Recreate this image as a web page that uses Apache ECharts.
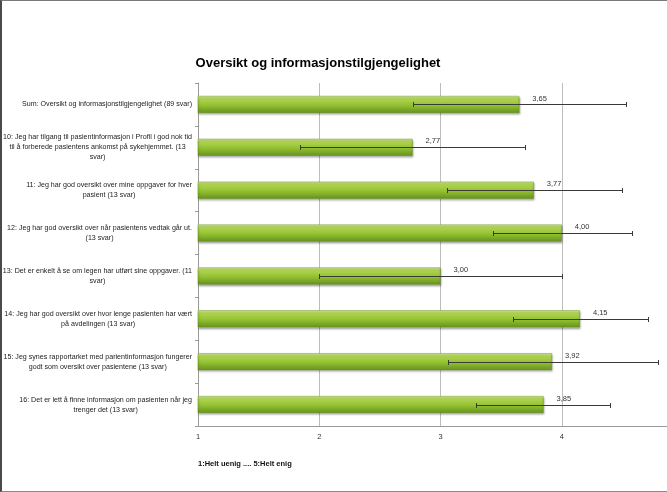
<!DOCTYPE html>
<html>
<head>
<meta charset="utf-8">
<script src="https://cdn.jsdelivr.net/npm/echarts@6/dist/echarts.min.js"></script>
<style>
html,body{margin:0;padding:0;background:#fff;}
#wrap{position:relative;width:667px;height:492px;overflow:hidden;}
#chart{position:absolute;left:0;top:0;width:667px;height:492px;}
#frame{position:absolute;left:0;top:0;width:667px;height:492px;box-sizing:border-box;border-left:2px solid #4a4a4a;border-top:1px solid #7a7a7a;border-bottom:1px solid #8a8a8a;pointer-events:none;}
</style>
</head>
<body>
<div id="wrap"><div id="chart"></div><div id="frame"></div></div>
<script>
const titleText = 'Oversikt og informasjonstilgjengelighet';
const axisNote = '1:Helt uenig .... 5:Helt enig';
const categories = [
  'Sum: Oversikt og informasjonstilgjengelighet (89 svar)',
  '10: Jeg har tilgang til pasientinformasjon i Profil i god nok tid\ntil å forberede pasientens ankomst på sykehjemmet. (13\nsvar)',
  '11: Jeg har god oversikt over mine oppgaver for hver\npasient (13 svar)',
  '12: Jeg har god oversikt over når pasientens vedtak går ut.\n(13 svar)',
  '13: Det er enkelt å se om legen har utført sine oppgaver. (11\nsvar)',
  '14: Jeg har god oversikt over hvor lenge pasienten har vært\npå avdelingen (13 svar)',
  '15: Jeg synes rapportarket med parientinformasjon fungerer\ngodt som oversikt over pasientene (13 svar)',
  '16: Det er lett å finne informasjon om pasienten når jeg\ntrenger det (13 svar)'
];
const means   = [3.65, 2.77, 3.77, 4.00, 3.00, 4.15, 3.92, 3.85];
const errLow  = [2.77, 1.84, 3.05, 3.43, 2.00, 3.60, 3.06, 3.29];
const errHigh = [4.53, 3.70, 4.50, 4.58, 4.00, 4.71, 4.79, 4.40];
const xTicks  = [1, 2, 3, 4, 5];

const errData = categories.map((c, i) => [i, errLow[i], errHigh[i]]);

const chart = echarts.init(document.getElementById('chart'), null, {renderer: 'canvas'});
const FONT = 'Liberation Sans, Arial, sans-serif';

chart.setOption({
  animation: false,
  backgroundColor: '#ffffff',
  title: [
    {
      text: titleText,
      left: 313, top: 52, textAlign: 'center',
      textStyle: {fontFamily: FONT, fontSize: 13, fontWeight: 'bold', color: '#000'}
    },
    {
      text: axisNote,
      left: 193, top: 455,
      textStyle: {fontFamily: FONT, fontSize: 7.5, fontWeight: 'bold', color: '#111'}
    }
  ],
  grid: {left: 198, top: 83, bottom: 66, right: -16, containLabel: false, outerBoundsMode: 'none'},
  xAxis: {
    type: 'value',
    min: xTicks[0], max: xTicks[xTicks.length - 1], interval: 1,
    axisLine: {show: true, lineStyle: {color: '#9a9a9a', width: 1}},
    axisTick: {show: false},
    splitLine: {show: true, lineStyle: {color: '#bdbdbd', width: 1}},
    axisLabel: {
      fontFamily: FONT, fontSize: 7.5, color: '#333', margin: 7,
      showMaxLabel: false,
      formatter: v => String(v)
    }
  },
  yAxis: {
    type: 'category',
    data: categories,
    inverse: true,
    axisLine: {show: true, lineStyle: {color: '#9a9a9a', width: 1}},
    axisTick: {show: true, length: 3, lineStyle: {color: '#9a9a9a'}},
    splitLine: {show: false},
    axisLabel: {
      margin: 6,
      align: 'right',
      formatter: v => v.split('\n').map(l => '{c|' + l + '}').join('\n'),
      rich: {
        c: {align: 'center', fontFamily: FONT, fontSize: 7.1, lineHeight: 10, color: '#222'}
      }
    }
  },
  series: [
    {
      type: 'bar',
      data: means,
      barWidth: 17,
      itemStyle: {
        color: new echarts.graphic.LinearGradient(0, 0, 0, 1, [
          {offset: 0, color: '#d8eea2'},
          {offset: 0.18, color: '#afd450'},
          {offset: 0.55, color: '#93c132'},
          {offset: 1, color: '#66921d'}
        ]),
        borderColor: '#6f9a22',
        borderWidth: 0.5,
        shadowColor: 'rgba(0,0,0,0.35)',
        shadowBlur: 2,
        shadowOffsetY: 1.5,
        shadowOffsetX: 0.5
      },
      label: {
        show: true,
        position: 'right',
        offset: [8, -6],
        fontFamily: FONT, fontSize: 7.5, color: '#333',
        formatter: p => p.value.toFixed(2).replace('.', ',')
      },
      z: 2
    },
    {
      type: 'custom',
      data: errData,
      encode: {x: [1, 2], y: 0},
      z: 5,
      renderItem: (params, api) => {
        const i = api.value(0);
        const p1 = api.coord([api.value(1), i]);
        const p2 = api.coord([api.value(2), i]);
        const y = Math.round(p1[1]) + 0.5;
        const x1 = Math.round(p1[0]) + 0.5, x2 = Math.round(p2[0]) + 0.5;
        const st = {stroke: '#3a3a3a', lineWidth: 1};
        return {
          type: 'group',
          children: [
            {type: 'line', shape: {x1: x1, y1: y, x2: x2, y2: y}, style: st},
            {type: 'line', shape: {x1: x1, y1: y - 2.5, x2: x1, y2: y + 2.5}, style: st},
            {type: 'line', shape: {x1: x2, y1: y - 2.5, x2: x2, y2: y + 2.5}, style: st}
          ]
        };
      }
    }
  ]
});
</script>
</body>
</html>
